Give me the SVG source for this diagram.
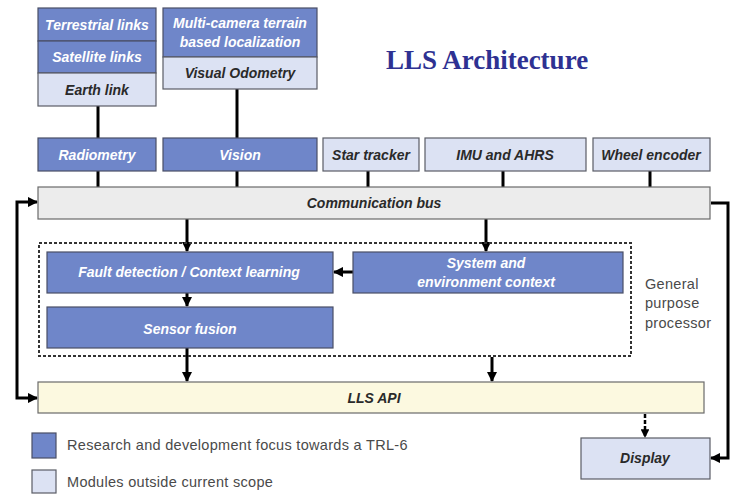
<svg xmlns="http://www.w3.org/2000/svg" width="741" height="494" viewBox="0 0 741 494">
<defs>
<style>
.dk{fill:#6f86c9;stroke:#4a4f66;stroke-width:1.2}
.lt{fill:#dce2f3;stroke:#5a5d66;stroke-width:1.2}
.bus{fill:#ececec;stroke:#6a6a6a;stroke-width:1.2}
.api{fill:#fcf9e0;stroke:#6a6a6a;stroke-width:1.2}
.tw{font-family:"Liberation Sans",Arial,sans-serif;font-weight:bold;font-style:italic;font-size:14px;fill:#ffffff;text-anchor:middle}
.tb{font-family:"Liberation Sans",Arial,sans-serif;font-weight:bold;font-style:italic;font-size:14px;fill:#2a2a2a;text-anchor:middle}
.tg{font-family:"Liberation Sans",Arial,sans-serif;font-size:14.5px;fill:#4a4a4a;letter-spacing:0.3px}
.ln{stroke:#000;stroke-width:3;fill:none}
.ar{stroke:#000;stroke-width:3;fill:none}
</style>
<marker id="ah" viewBox="0 0 10 10" refX="9" refY="5" markerWidth="3.5" markerHeight="3.5" orient="auto-start-reverse" markerUnits="strokeWidth">
<path d="M0,0 L10,5 L0,10 z" fill="#000"/>
</marker>
</defs>
<rect width="741" height="494" fill="#ffffff"/>
<text x="487" y="69" font-family="'Liberation Serif','Times New Roman',serif" font-weight="bold" font-size="27" fill="#2e3192" text-anchor="middle">LLS Architecture</text>

<g id="connectors">
<line class="ln" x1="98" y1="106" x2="98" y2="138"/>
<line class="ln" x1="237" y1="89" x2="237" y2="138"/>
<line class="ln" x1="98" y1="171" x2="98" y2="187"/>
<line class="ln" x1="237" y1="171" x2="237" y2="187"/>
<line class="ln" x1="368" y1="171" x2="368" y2="187"/>
<line class="ln" x1="503" y1="171" x2="503" y2="187"/>
<line class="ln" x1="650" y1="171" x2="650" y2="187"/>
<line class="ar" x1="187" y1="219" x2="187" y2="251" marker-end="url(#ah)"/>
<line class="ar" x1="486" y1="219" x2="486" y2="251" marker-end="url(#ah)"/>
<line class="ar" x1="353" y1="272" x2="334" y2="272" marker-end="url(#ah)"/>
<line class="ar" x1="187" y1="293" x2="187" y2="306" marker-end="url(#ah)"/>
<line class="ar" x1="187" y1="348" x2="187" y2="381" marker-end="url(#ah)"/>
<line class="ar" x1="492" y1="357" x2="492" y2="381" marker-end="url(#ah)"/>
<polyline class="ar" points="37,202 17,202 17,398 37,398" marker-start="url(#ah)" marker-end="url(#ah)"/>
<polyline class="ar" points="711,203 728,203 728,458 711,458" marker-end="url(#ah)"/>
<line x1="645" y1="414" x2="645" y2="437" stroke="#000" stroke-width="2.5" stroke-dasharray="4,2" marker-end="url(#ah)"/>
</g>

<g id="gpp">
<rect x="39" y="243" width="592" height="113" fill="none" stroke="#333" stroke-width="2" stroke-dasharray="3,2"/>
<text class="tg" x="645" y="289" letter-spacing="0">General</text>
<text class="tg" x="645" y="308" letter-spacing="0">purpose</text>
<text class="tg" x="645" y="328" letter-spacing="0">processor</text>
</g>

<g id="earth-stack">
<rect class="dk" x="38" y="8" width="118" height="33"/>
<text class="tw" x="97" y="30">Terrestrial links</text>
<rect class="dk" x="38" y="41" width="118" height="32"/>
<text class="tw" x="97" y="62">Satellite links</text>
<rect class="lt" x="38" y="73" width="118" height="33"/>
<text class="tb" x="97" y="95">Earth link</text>
</g>

<g id="vision-stack">
<rect class="dk" x="163" y="8" width="154" height="49"/>
<text class="tw" x="240" y="28">Multi-camera terrain</text>
<text class="tw" x="240" y="47">based localization</text>
<rect class="lt" x="163" y="57" width="154" height="32"/>
<text class="tb" x="240" y="78">Visual Odometry</text>
</g>

<g id="radiometry">
<rect class="dk" x="38" y="138" width="118" height="33"/>
<text class="tw" x="97" y="160">Radiometry</text>
</g>
<g id="vision">
<rect class="dk" x="163" y="138" width="154" height="33"/>
<text class="tw" x="240" y="160">Vision</text>
</g>
<g id="star-tracker">
<rect class="lt" x="323" y="138" width="96" height="33"/>
<text class="tb" x="371" y="160" font-style="normal">Star tracker</text>
</g>
<g id="imu">
<rect class="lt" x="425" y="138" width="161" height="33"/>
<text class="tb" x="505" y="160">IMU and AHRS</text>
</g>
<g id="wheel">
<rect class="lt" x="593" y="138" width="117" height="33"/>
<text class="tb" x="651" y="160">Wheel encoder</text>
</g>

<g id="bus">
<rect class="bus" x="38" y="187" width="672" height="32"/>
<text class="tb" x="374" y="208">Communication bus</text>
</g>

<g id="fault">
<rect class="dk" x="47" y="252" width="286" height="41"/>
<text class="tw" x="189" y="277">Fault detection / Context learning</text>
</g>
<g id="context">
<rect class="dk" x="353" y="252" width="270" height="41"/>
<text class="tw" x="486" y="268">System and</text>
<text class="tw" x="486" y="287">environment context</text>
</g>
<g id="fusion">
<rect class="dk" x="47" y="307" width="286" height="41"/>
<text class="tw" x="190" y="334">Sensor fusion</text>
</g>

<g id="api">
<rect class="api" x="38" y="382" width="666" height="31"/>
<text class="tb" x="374" y="403">LLS  API</text>
</g>

<g id="display">
<rect class="lt" x="581" y="438" width="129" height="41"/>
<text class="tb" x="645" y="463">Display</text>
</g>

<g id="legend">
<rect class="dk" x="32" y="433" width="24" height="25"/>
<text class="tg" x="67" y="450">Research and development focus towards a TRL-6</text>
<rect class="lt" x="32" y="470" width="24" height="23"/>
<text class="tg" x="67" y="487">Modules outside current scope</text>
</g>
</svg>
